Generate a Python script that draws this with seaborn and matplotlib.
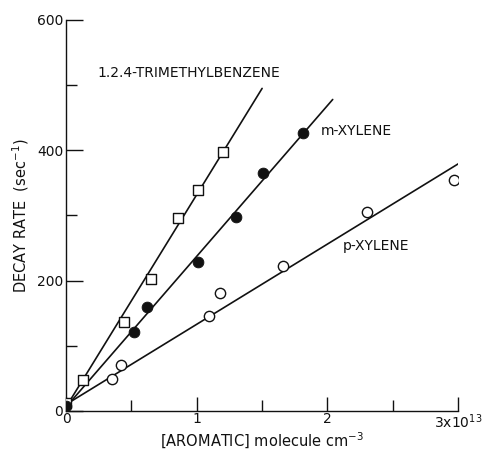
import numpy as np
import pandas as pd
import matplotlib
matplotlib.use("Agg")
import matplotlib.pyplot as plt
import seaborn as sns

# concentration in units of 1e13 molecule cm^-3, decay rate in s^-1
tmb_x = [0.0, 0.13, 0.44, 0.65, 0.86, 1.01, 1.20]
tmb_y = [12, 47, 136, 202, 296, 339, 398]
mxyl_x = [0.0, 0.52, 0.62, 1.01, 1.30, 1.51, 1.81]
mxyl_y = [8, 121, 159, 228, 297, 365, 426]
pxyl_x = [0.35, 0.42, 1.09, 1.18, 1.66, 2.30, 2.97]
pxyl_y = [49, 70, 146, 181, 222, 305, 355]

# fitted lines drawn through the points
tmb_line = ([0.0, 1.50], [6, 495])
mxyl_line = ([0.0, 2.04], [6, 478])
pxyl_line = ([0.0, 3.12], [10, 394])

x_ticks = [0, 1, 2, 3]
x_ticklabels = ["0", "1", "2", r"3x10$^{13}$"]
y_ticks = [0, 200, 400, 600]

sns.set_theme(style="ticks")
plt.rcParams["font.family"] = ["DejaVu Sans"]

fig = plt.figure(figsize=(4.89, 4.51), dpi=100)
ax = fig.add_axes([0.135, 0.0887, 0.802, 0.867])

for lx, ly in [tmb_line, mxyl_line, pxyl_line]:
    sns.lineplot(x=lx, y=ly, ax=ax, color="#111111", lw=1.2)

sns.scatterplot(x=tmb_x, y=tmb_y, ax=ax, marker="s", s=55,
                facecolor="white", edgecolor="#111111", linewidth=1.0, zorder=3)
sns.scatterplot(x=mxyl_x, y=mxyl_y, ax=ax, marker="o", s=60,
                color="#111111", edgecolor="#111111", zorder=3)
sns.scatterplot(x=pxyl_x, y=pxyl_y, ax=ax, marker="o", s=55,
                facecolor="white", edgecolor="#111111", linewidth=1.0, zorder=3)

ax.text(0.24, 518, "1.2.4-TRIMETHYLBENZENE", fontsize=10, color="#111111",
        va="center")
ax.text(1.95, 430, "m-XYLENE", fontsize=10, color="#111111", va="center")
ax.text(2.12, 253, "p-XYLENE", fontsize=10, color="#111111", va="center")

ax.set_xlim(0, 3)
ax.set_ylim(0, 600)
ax.set_xticks(x_ticks)
ax.set_xticklabels(x_ticklabels)
ax.set_xticks([0.5, 1.5, 2.5], minor=True)
ax.set_yticks(y_ticks)
ax.set_yticks([100, 300, 500], minor=True)
ax.tick_params(axis="both", which="both", direction="in", length=8,
               width=1.0, colors="#111111", labelsize=10)
ax.tick_params(axis="x", which="major", length=10, pad=1)
ax.tick_params(axis="y", which="major", length=12, pad=2)

for side in ["top", "right"]:
    ax.spines[side].set_visible(False)
for side in ["left", "bottom"]:
    ax.spines[side].set_color("#111111")
    ax.spines[side].set_linewidth(1.0)

ax.set_xlabel(r"[AROMATIC] molecule cm$^{-3}$", fontsize=10.5, color="#111111",
              labelpad=0)
ax.set_ylabel(r"DECAY RATE  (sec$^{-1}$)", fontsize=10.5, color="#111111",
              labelpad=4)

fig.savefig("out.png", dpi=100)
